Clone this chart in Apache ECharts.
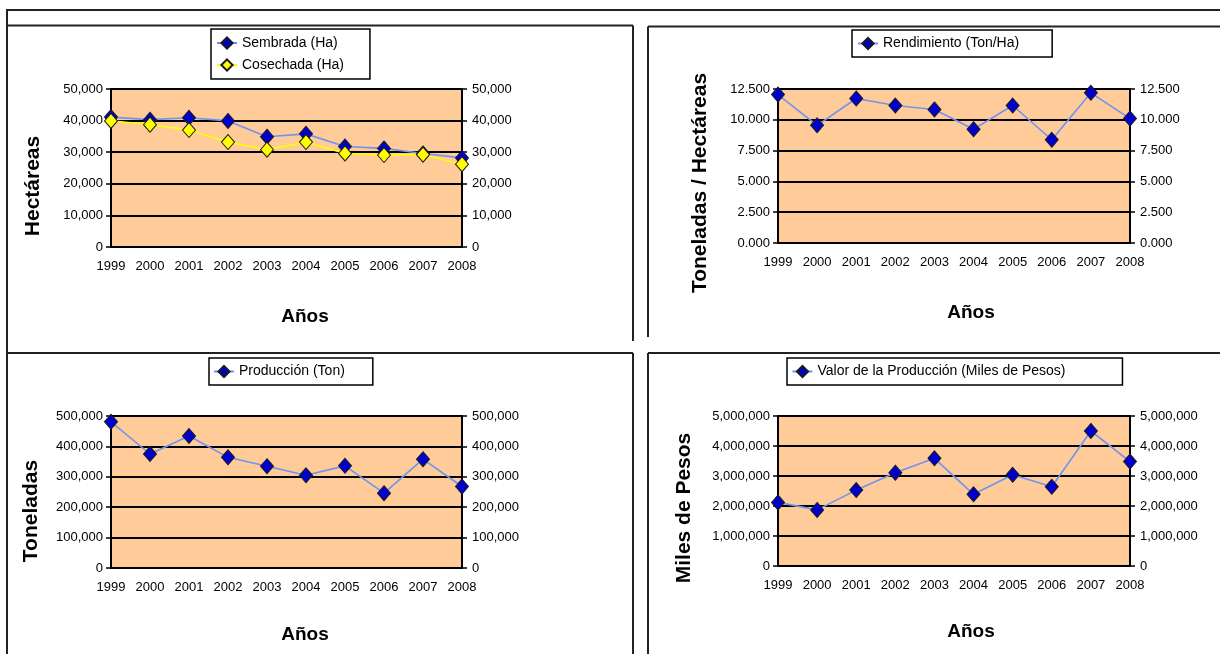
<!DOCTYPE html>
<html>
<head>
<meta charset="utf-8">
<script src="https://cdn.jsdelivr.net/npm/echarts@6/dist/echarts.min.js"></script>
<style>
html,body{margin:0;padding:0;background:#fff;}
#chart{width:1220px;height:654px;}
</style>
</head>
<body>
<div id="chart"></div>
<script>
// ---- data ----
var years = ['1999','2000','2001','2002','2003','2004','2005','2006','2007','2008'];
var sembrada = [41100, 40300, 40900, 39900, 34900, 35800, 31800, 31200, 29600, 28200];
var cosechada = [39900, 38700, 37000, 33200, 30800, 33200, 29600, 29100, 29200, 26200];
var rendimiento = [12.05, 9.55, 11.73, 11.16, 10.84, 9.24, 11.16, 8.38, 12.19, 10.1];
var produccion = [481000, 375000, 434000, 364000, 335000, 305000, 336000, 246000, 358000, 268000];
var valor = [2120000, 1870000, 2530000, 3110000, 3590000, 2390000, 3040000, 2640000, 4500000, 3480000];

var names = {
  sembrada: 'Sembrada (Ha)',
  cosechada: 'Cosechada (Ha)',
  rendimiento: 'Rendimiento (Ton/Ha)',
  produccion: 'Producción (Ton)',
  valor: 'Valor de la Producción (Miles de Pesos)'
};
var xTitle = 'Años';
var yTitles = ['Hectáreas', 'Toneladas / Hectáreas', 'Toneladas', 'Miles de Pesos'];

// ---- styles ----
var FONT = 'Liberation Sans, Arial, sans-serif';
var blueLine = '#6F93F0';
var fmtComma = function (v) { return Math.round(v).toString().replace(/\B(?=(\d{3})+(?!\d))/g, ','); };
var fmtDec = function (v) { return v.toFixed(3); };

var grids = [
  {left: 111, top: 89, width: 351, height: 158},
  {left: 778, top: 89, width: 352, height: 154},
  {left: 111, top: 416, width: 351, height: 152},
  {left: 778, top: 416, width: 352, height: 150}
];
var yScales = [
  {min: 0, max: 50000, interval: 10000, fmt: fmtComma},
  {min: 0, max: 12.5, interval: 2.5, fmt: fmtDec},
  {min: 0, max: 500000, interval: 100000, fmt: fmtComma},
  {min: 0, max: 5000000, interval: 1000000, fmt: fmtComma}
];

var xAxes = [], yAxes = [];
grids.forEach(function (g, i) {
  xAxes.push({
    type: 'category', gridIndex: i, data: years, boundaryGap: false,
    axisLine: {show: true, lineStyle: {color: '#000', width: 2}},
    axisTick: {show: false},
    axisLabel: {color: '#000', fontFamily: FONT, fontSize: 13, margin: 13, interval: 0},
    splitLine: {show: false}
  });
  var s = yScales[i];
  ['left', 'right'].forEach(function (pos) {
    yAxes.push({
      type: 'value', gridIndex: i, position: pos,
      min: s.min, max: s.max, interval: s.interval,
      axisLine: {show: true, lineStyle: {color: '#000', width: 2}},
      axisTick: {show: true, inside: false, length: 5, lineStyle: {color: '#000', width: 1.5}},
      axisLabel: {color: '#000', fontFamily: FONT, fontSize: 13, margin: pos === 'left' ? 8 : 10, formatter: s.fmt},
      splitLine: {show: pos === 'left', lineStyle: {color: '#000', width: 2}}
    });
  });
});

function lineSeries(name, data, gi, lineColor, fill) {
  return {
    name: name, type: 'line', data: data,
    xAxisIndex: gi, yAxisIndex: gi * 2,
    symbol: 'diamond', symbolSize: [13, 15], showSymbol: true,
    lineStyle: {color: lineColor, width: 1.6},
    itemStyle: {color: fill, borderColor: '#1a1a1a', borderWidth: 1},
    emphasis: {disabled: true},
    z: 3
  };
}

var series = [
  lineSeries(names.sembrada, sembrada, 0, blueLine, '#0000CC'),
  lineSeries(names.cosechada, cosechada, 0, '#FFFF00', '#FFFF00'),
  lineSeries(names.rendimiento, rendimiento, 1, blueLine, '#0000CC'),
  lineSeries(names.produccion, produccion, 2, blueLine, '#0000CC'),
  lineSeries(names.valor, valor, 3, blueLine, '#0000CC')
];

function legend(data, left, top, padding, orient) {
  return {
    data: data, left: left, top: top, orient: orient || 'horizontal',
    padding: padding, itemGap: 8, itemWidth: 20, itemHeight: 14,
    backgroundColor: '#fff', borderColor: '#000', borderWidth: 1.5,
    selectedMode: false,
    textStyle: {color: '#000', fontFamily: FONT, fontSize: 14}
  };
}

var legends = [
  legend([names.sembrada, names.cosechada], 211, 29, [7, 26, 7, 5], 'vertical'),
  legend([names.rendimiento], 852, 30, [6.5, 33, 6.5, 5]),
  legend([names.produccion], 209, 358, [6.5, 28, 6.5, 4]),
  legend([names.valor], 787, 358, [6.5, 57, 6.5, 4.5])
];

// frame lines
var lineStyle = {stroke: '#222', lineWidth: 2};
function ln(x1, y1, x2, y2) {
  return {type: 'line', shape: {x1: x1, y1: y1, x2: x2, y2: y2}, style: lineStyle, silent: true};
}
var frames = [
  ln(6, 10, 1220, 10), ln(7, 10, 7, 654),
  ln(7, 25.5, 633, 25.5), ln(633, 25.5, 633, 341),
  ln(648, 26.5, 1220, 26.5), ln(648, 26.5, 648, 337),
  ln(7, 353, 633, 353), ln(633, 353, 633, 654),
  ln(648, 353, 1220, 353), ln(648, 353, 648, 654)
];
function txt(s, x, y, rot, size) {
  return {
    type: 'text', x: x, y: y, rotation: rot || 0, silent: true,
    style: {text: s, fill: '#000', font: 'bold ' + size + 'px ' + FONT, textAlign: 'center', textVerticalAlign: 'middle'}
  };
}
var titles = [
  txt(xTitle, 305, 317, 0, 19), txt(xTitle, 971, 313, 0, 19),
  txt(xTitle, 305, 635, 0, 19), txt(xTitle, 971, 632, 0, 19),
  txt(yTitles[0], 33, 186, Math.PI / 2, 21),
  txt(yTitles[1], 700, 183, Math.PI / 2, 21),
  txt(yTitles[2], 31, 511, Math.PI / 2, 21),
  txt(yTitles[3], 684, 508, Math.PI / 2, 21)
];

var chart = echarts.init(document.getElementById('chart'), null, {renderer: 'canvas'});
chart.setOption({
  animation: false,
  backgroundColor: '#fff',
  grid: grids.map(function (g) {
    return {left: g.left, top: g.top, width: g.width, height: g.height, show: true, backgroundColor: '#FFCC99', borderWidth: 0, containLabel: false};
  }),
  xAxis: xAxes,
  yAxis: yAxes,
  legend: legends,
  series: series,
  graphic: frames.concat(titles)
});
</script>
</body>
</html>
